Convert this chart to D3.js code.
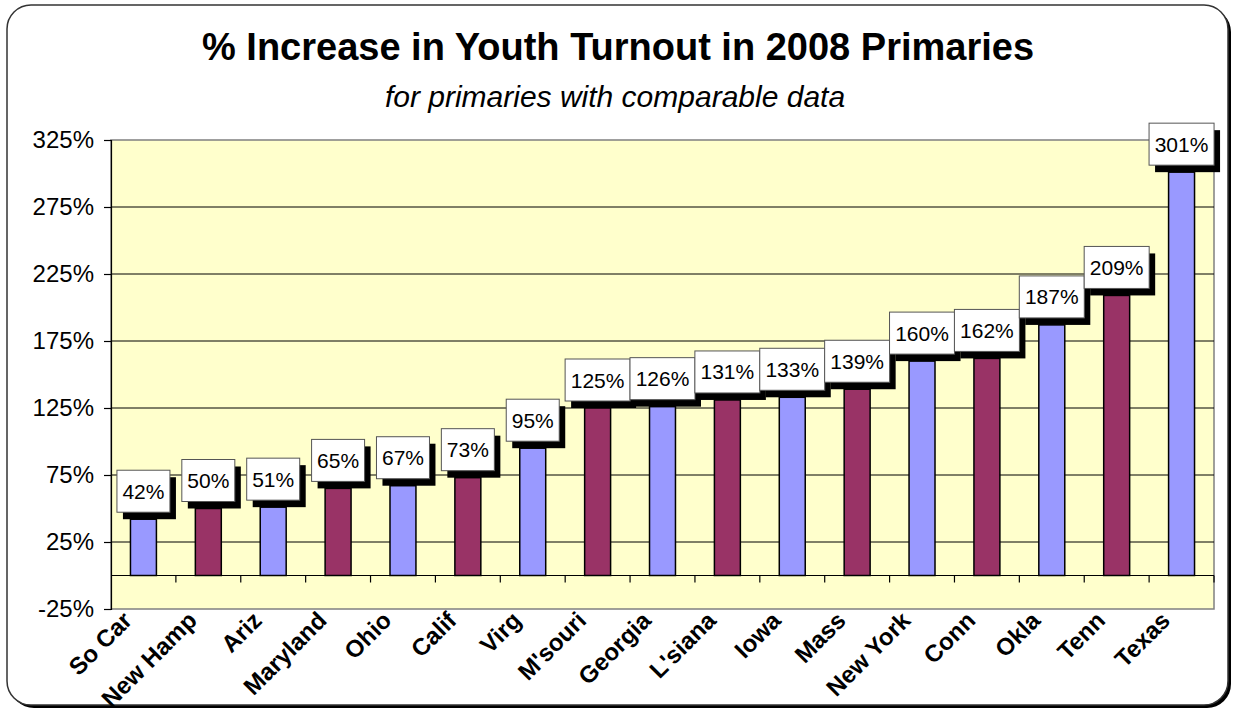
<!DOCTYPE html>
<html>
<head>
<meta charset="utf-8">
<script src="https://cdn.jsdelivr.net/npm/d3@7/dist/d3.min.js"></script>
<style>
  html, body { margin: 0; padding: 0; background: #fff; }
  svg { display: block; font-family: "Liberation Sans", Arial, sans-serif; }
</style>
</head>
<body>
<svg id="chart" width="1235" height="711"></svg>
<script>
const categories = ["So Car","New Hamp","Ariz","Maryland","Ohio","Calif","Virg","M'souri","Georgia","L'siana","Iowa","Mass","New York","Conn","Okla","Tenn","Texas"];
const values = [42,50,51,65,67,73,95,125,126,131,133,139,160,162,187,209,301];
const barColors = ["#9999FF","#993366"];
const yTicks = [-25,25,75,125,175,225,275,325];
const titleText = "% Increase in Youth Turnout in 2008 Primaries";
const subtitleText = "for primaries with comparable data";

(function(){
const FONT = "'Liberation Sans', Arial, sans-serif";
const svg = d3.select("#chart");

// outer frame with shadow
svg.append("rect").attr("x",10).attr("y",8).attr("width",1221).attr("height",700)
  .attr("rx",24).attr("ry",24).attr("fill","#000");
svg.append("rect").attr("x",7).attr("y",5).attr("width",1221).attr("height",700)
  .attr("rx",24).attr("ry",24).attr("fill","#fff").attr("stroke","#333").attr("stroke-width",1.5);

const pl = 111, pr = 1214, pt = 140, pb = 609;
const x = d3.scaleBand().domain(categories).range([pl,pr]).paddingInner(0.6).paddingOuter(0.3);
const y = d3.scaleLinear().domain([-25,325]).range([pb,pt]);

// plot area
svg.append("rect").attr("x",pl).attr("y",pt).attr("width",pr-pl).attr("height",pb-pt)
  .attr("fill","#FFFFCC").attr("stroke","#808080").attr("stroke-width",1.5);

// gridlines
svg.append("g").selectAll("line").data(yTicks.filter(t => t > -25 && t < 325)).join("line")
  .attr("x1",pl).attr("x2",pr).attr("y1",d=>y(d)).attr("y2",d=>y(d))
  .attr("stroke","#000").attr("stroke-width",1);

// y axis
const yAxis = d3.axisLeft(y).tickValues(yTicks).tickSize(7).tickPadding(10).tickFormat(d => d + "%");
const gy = svg.append("g").attr("transform",`translate(${pl},0)`).call(yAxis);
gy.select(".domain").attr("stroke","#000").attr("stroke-width",1.2);
gy.selectAll(".tick line").attr("stroke","#000").attr("stroke-width",1.2);
gy.selectAll(".tick text").attr("font-size","24px").attr("fill","#000").attr("font-family",FONT);

// x axis at zero with ticks at band boundaries
const step = x.step();
const boundaries = d3.range(1, categories.length + 1).map(i => pl + i*step);
svg.append("line").attr("x1",pl).attr("x2",pr).attr("y1",y(0)).attr("y2",y(0))
  .attr("stroke","#000").attr("stroke-width",1.2);
svg.append("g").selectAll("line").data(boundaries).join("line")
  .attr("x1",d=>d).attr("x2",d=>d).attr("y1",y(0)).attr("y2",y(0)+7)
  .attr("stroke","#000").attr("stroke-width",1.2);

// bars
svg.append("g").selectAll("rect").data(values).join("rect")
  .attr("x",(d,i)=>x(categories[i]))
  .attr("width",x.bandwidth())
  .attr("y",d=>y(d))
  .attr("height",d=>y(0)-y(d))
  .attr("fill",(d,i)=>barColors[i%2])
  .attr("stroke","#000").attr("stroke-width",1.5);

// data labels
const lg = svg.append("g");
values.forEach((v,i) => {
  const cx = x(categories[i]) + x.bandwidth()/2;
  const label = v + "%";
  const w = label.length === 3 ? 53 : 65;
  const h = 42;
  const bx = cx - w/2;
  const by = y(v) - 7 - h;
  lg.append("rect").attr("x",bx+6).attr("y",by+7).attr("width",w).attr("height",h).attr("fill","#000");
  lg.append("rect").attr("x",bx).attr("y",by).attr("width",w).attr("height",h)
    .attr("fill","#fff").attr("stroke","#555").attr("stroke-width",1);
  lg.append("text").attr("x",cx).attr("y",by + h/2 + 7.5).attr("text-anchor","middle")
    .attr("font-family",FONT).attr("font-size","21px").attr("fill","#000").text(label);
});

// x labels
svg.append("g").selectAll("text").data(categories).join("text")
  .attr("transform",d=>`translate(${x(d)+x.bandwidth()/2-10},${pb+13}) rotate(-45)`)
  .attr("text-anchor","end").attr("font-weight","bold").attr("font-size","24px")
  .attr("font-family",FONT).attr("fill","#000").text(d=>d);

// titles
svg.append("text").attr("x",618).attr("y",60).attr("text-anchor","middle")
  .attr("font-family",FONT).attr("font-weight","bold").attr("font-size","38px").text(titleText);
svg.append("text").attr("x",615).attr("y",107).attr("text-anchor","middle")
  .attr("font-family",FONT).attr("font-style","italic").attr("font-size","30px").text(subtitleText);
})();
</script>
</body>
</html>
